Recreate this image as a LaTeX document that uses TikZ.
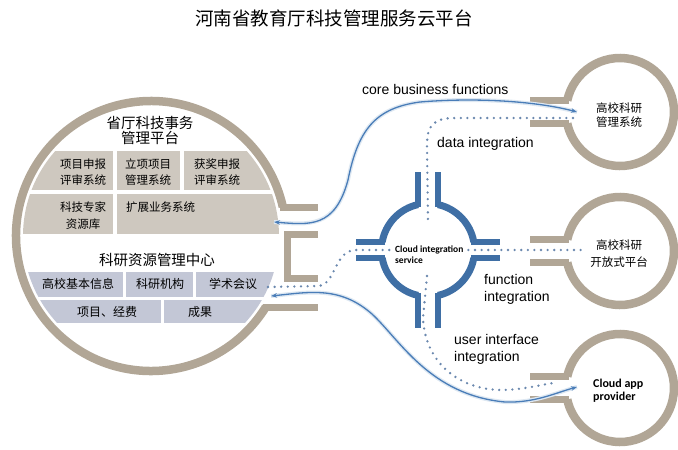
\documentclass[tikz,border=0pt]{standalone}
\usepackage{fontspec}
\setmainfont{Liberation Sans}
\newfontfamily\cjk{Noto Sans CJK SC}
\newfontfamily\calib{Carlito}
\definecolor{ringgray}{HTML}{B1A696}
\definecolor{cloudblue}{HTML}{3F6FA5}
\definecolor{panelup}{HTML}{CEC8BF}
\definecolor{paneldown}{HTML}{C3C7D6}
\definecolor{linkblue}{HTML}{4A7DB8}
\definecolor{dotblue}{HTML}{6A88AE}
\usetikzlibrary{arrows.meta}

\tikzset{
  ringline/.style={draw=ringgray, line width=8.5pt},
  plugbar/.style={draw=ringgray, line width=7pt},
  crossbar/.style={draw=cloudblue, line width=6pt},
  bluelink/.style={draw=linkblue, line width=1.3pt,
    preaction={draw=linkblue!18, line width=4pt, -},
    {Stealth[length=6pt,width=4.5pt]}-{Stealth[length=6pt,width=4.5pt]}},
  dotlink/.style={draw=dotblue, line width=2.6pt, line cap=round, dash pattern=on 0pt off 6.6pt},
  cellcn/.style={font=\cjk\fontsize{11.5}{16.5}\selectfont, align=center, inner sep=0pt},
  headcn/.style={font=\cjk\fontsize{14.5}{15.5}\selectfont, align=center, inner sep=0pt},
  engtext/.style={font=\fontsize{14}{17}\selectfont, align=left, anchor=west, inner sep=0pt},
}

\begin{document}
\begin{tikzpicture}[x=1pt,y=-1pt]
\useasboundingbox (0,0) rectangle (678,450);

% title
\node[font=\cjk\fontsize{18.5}{20}\selectfont] (title) at (334,18) {河南省教育厅科技管理服务云平台};

% panels inside the big circle
\begin{scope}
  \clip (151,236) circle[radius=128];
  \foreach \xa/\xb/\ya/\yb in {0/113/151/190, 117/180/151/190, 184/300/151/190,
                               0/113/194/234, 117/300/194/234}
    \fill[panelup] (\xa,\ya) rectangle (\xb,\yb);
  \foreach \xa/\xb/\ya/\yb in {0/123/272/297, 126/193/272/297, 196/300/272/297,
                               0/161/300/323, 164/300/300/323}
    \fill[paneldown] (\xa,\ya) rectangle (\xb,\yb);
\end{scope}

% big ring with its socket
\draw[ringline] (151,236) ++(31.7:135) arc[start angle=31.7, end angle=347.6, radius=135];
\draw[plugbar] (280,207) -- (318,207);
\draw[plugbar] (263,307) -- (318,307);
\draw[plugbar] (318,234.5) -- (287,234.5) -- (287,278.5) -- (318,278.5);

% small rings on the right
\foreach \cy in {112,251,388} {
  \draw[ringline] (620,\cy) ++(192.3:54) arc[start angle=192.3, end angle=527.7, radius=54];
  \draw[plugbar] (530,\cy-11.5) -- (569,\cy-11.5);
  \draw[plugbar] (530,\cy+11.5) -- (569,\cy+11.5);
}

% cloud integration service
\begin{scope}[shift={(428,250)}]
  \foreach \s/\e in {10/77.5, 102.5/170, 190/257.5, 282.5/350}
    \draw[crossbar, line width=7pt] (\s:46.5) arc[start angle=\s, end angle=\e, radius=46.5];
  \foreach \sx in {-1,1} \foreach \sy in {-1,1} {
    \draw[crossbar] (\sx*43,\sy*8) -- (\sx*72,\sy*8);
    \draw[crossbar] (\sx*10,\sy*43) -- (\sx*10,\sy*78);
  }
\end{scope}

% link ends
\coordinate (coreL) at (274,222);
\coordinate (coreR) at (577,112);
\coordinate (appL) at (271,296);
\coordinate (appR) at (577,387);
\coordinate (dataA) at (573,118);
\coordinate (dataB) at (428,221);
\coordinate (funcL) at (268,287);
\coordinate (funcR) at (583,250);
\coordinate (uiA) at (427,276);
\coordinate (uiB) at (553,383);

% dotted links
\draw[dotlink] (dataA) -- (455,118) .. controls (433,118) and (427,126) .. (427,145) -- (dataB);
\draw[dotlink] (funcL) -- (318,286) .. controls (336,285) and (334,250) .. (356,250) -- (funcR);
\draw[dotlink] (uiA) -- (423,318) .. controls (425,362) and (458,389) .. (500,390)
  .. controls (522,390) and (540,385) .. (uiB);

% blue links
\draw[bluelink] (coreL) .. controls (310,225) and (335,228) .. (348,180)
  .. controls (358,130) and (375,108) .. (420,102) .. controls (480,97) and (540,102) .. (coreR);
\draw[bluelink] (appL) .. controls (310,292) and (340,286) .. (372,314)
  .. controls (400,340) and (430,395) .. (505,402) .. controls (535,403) and (555,393) .. (appR);

% texts in the big circle
\node[headcn] (affairs) at (150,130.5) {省厅科技事务\\管理平台};
\node[cellcn] (apply) at (83,172) {项目申报\\评审系统};
\node[cellcn] (project) at (148,172) {立项项目\\管理系统};
\node[cellcn] (award) at (217,172) {获奖申报\\评审系统};
\node[cellcn] (expert) at (83,215.5) {科技专家\\资源库};
\node[cellcn, anchor=west] (extend) at (126,207) {扩展业务系统};
\node[headcn] (resource) at (157,260) {科研资源管理中心};
\node[cellcn, font=\cjk\fontsize{12}{14}\selectfont] (basic) at (78,284) {高校基本信息};
\node[cellcn, font=\cjk\fontsize{12}{14}\selectfont] (inst) at (160,284) {科研机构};
\node[cellcn, font=\cjk\fontsize{12}{14}\selectfont] (conf) at (233,284) {学术会议};
\node[cellcn, font=\cjk\fontsize{12}{14}\selectfont] (fund) at (107,312) {项目、经费};
\node[cellcn, font=\cjk\fontsize{12}{14}\selectfont] (result) at (200,312) {成果};

% texts in the small rings
\node[cellcn, font=\cjk\fontsize{11.5}{14}\selectfont] (mgmt) at (619,115) {高校科研\\管理系统};
\node[cellcn, font=\cjk\fontsize{11.5}{17}\selectfont] (open) at (619,253.5) {高校科研\\开放式平台};
\node[font=\calib\bfseries\fontsize{12}{13}\selectfont, align=left, anchor=west, inner sep=0pt] (app) at (593,391) {Cloud app\\provider};
\node[font=\calib\bfseries\fontsize{9.5}{11}\selectfont, align=left, anchor=west, fill=white, inner sep=1pt] (cis) at (394,254.5) {Cloud integration\\service};

% link labels
\node[engtext] (core) at (362,89) {core business functions};
\node[engtext] (data) at (437,144) {data integration};
\node[engtext] (func) at (484,289.5) {function\\integration};
\node[engtext] (ui) at (454,349.5) {user interface\\integration};
\end{tikzpicture}
\end{document}
